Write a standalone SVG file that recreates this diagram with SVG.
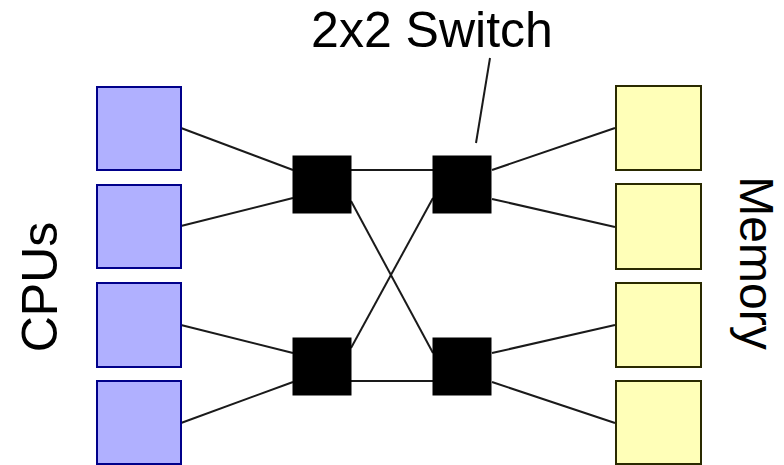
<svg xmlns="http://www.w3.org/2000/svg" width="784" height="465" viewBox="0 0 784 465">
<style>
.cpu{fill:#b0b0ff;stroke:#00008a;stroke-width:2}
.mem{fill:#ffffb8;stroke:#2a2a00;stroke-width:2}
.sw{fill:#000;stroke:#000;stroke-width:1}
.ln{stroke:#1a1a1a;stroke-width:2;fill:none}
.lbl{font-family:"Liberation Sans",Arial,sans-serif;font-size:50px;fill:#000}
</style>
<rect width="784" height="465" fill="#fff"/>
<g id="connectors">
<line class="ln" x1="181" y1="128" x2="293" y2="170"/>
<line class="ln" x1="181" y1="226" x2="293" y2="198"/>
<line class="ln" x1="181" y1="325" x2="293" y2="353"/>
<line class="ln" x1="181" y1="423" x2="293" y2="382"/>
<line class="ln" x1="351" y1="170" x2="433" y2="170"/>
<line class="ln" x1="351" y1="381" x2="433" y2="381"/>
<line class="ln" x1="351" y1="201" x2="433" y2="353"/>
<line class="ln" x1="433" y1="198" x2="351" y2="348"/>
<line class="ln" x1="492" y1="170" x2="615" y2="128"/>
<line class="ln" x1="492" y1="199" x2="615" y2="227"/>
<line class="ln" x1="492" y1="353" x2="615" y2="325"/>
<line class="ln" x1="492" y1="382" x2="615" y2="423"/>
<line class="ln" x1="490" y1="58" x2="476" y2="143"/>
</g>
<g id="cpu1"><rect class="cpu" x="97" y="87" width="84" height="83"/></g>
<g id="cpu2"><rect class="cpu" x="97" y="185" width="84" height="83"/></g>
<g id="cpu3"><rect class="cpu" x="97" y="283" width="84" height="84"/></g>
<g id="cpu4"><rect class="cpu" x="97" y="381" width="84" height="83"/></g>
<g id="sw1"><rect class="sw" x="293" y="156" width="58" height="57"/></g>
<g id="sw2"><rect class="sw" x="433" y="156" width="58" height="57"/></g>
<g id="sw3"><rect class="sw" x="293" y="338" width="58" height="57"/></g>
<g id="sw4"><rect class="sw" x="433" y="338" width="58" height="57"/></g>
<g id="mem1"><rect class="mem" x="616" y="86" width="85" height="84"/></g>
<g id="mem2"><rect class="mem" x="616" y="184" width="85" height="85"/></g>
<g id="mem3"><rect class="mem" x="616" y="283" width="85" height="84"/></g>
<g id="mem4"><rect class="mem" x="616" y="381" width="85" height="83"/></g>
<g id="labels">
<text class="lbl" x="432" y="47" text-anchor="middle">2x2 Switch</text>
<text class="lbl" text-anchor="middle" transform="translate(57,287) rotate(-90)">CPUs</text>
<text class="lbl" text-anchor="middle" style="font-size:48px" transform="translate(740,263) rotate(90)">Memory</text>
</g>
</svg>
